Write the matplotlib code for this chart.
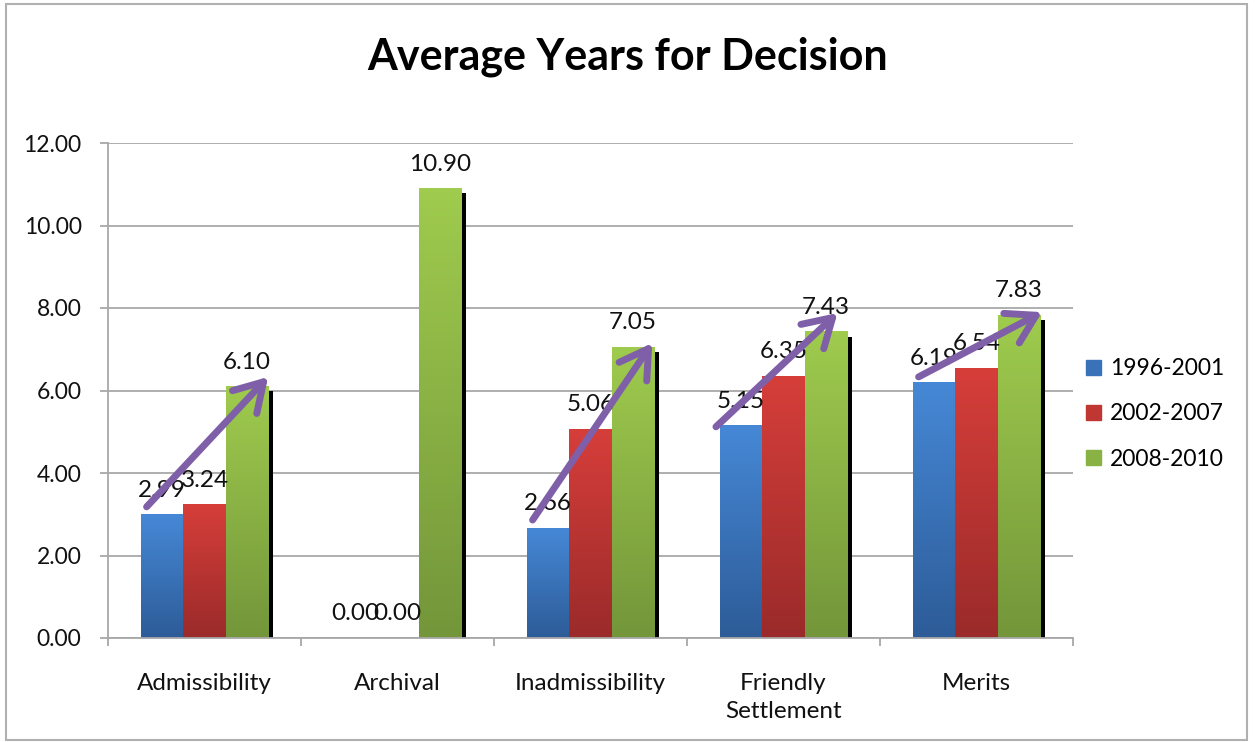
import matplotlib
matplotlib.use("Agg")
import matplotlib.pyplot as plt
import numpy as np
from matplotlib.colors import LinearSegmentedColormap
from matplotlib.patches import Rectangle
from matplotlib.transforms import ScaledTranslation

plt.rcParams["font.family"] = ["Lato", "DejaVu Sans"]

categories = ["Admissibility", "Archival", "Inadmissibility", "Friendly\nSettlement", "Merits"]
series_names = ["1996-2001", "2002-2007", "2008-2010"]
values_1996 = [2.99, 0.00, 2.66, 5.15, 6.19]
values_2002 = [3.24, 0.00, 5.06, 6.35, 6.54]
values_2008 = [6.10, 10.90, 7.05, 7.43, 7.83]
y_ticks = [0, 2, 4, 6, 8, 10, 12]

# trend arrows (category position, value) drawn over each group
arrow_starts = [(-0.30, 3.18), (1.70, 2.86), (2.65, 5.12), (3.70, 6.33)]
arrow_ends = [(0.33, 6.33), (2.32, 7.15), (3.28, 7.88), (4.34, 7.90)]

# top / bottom gradient colours per series
top_colors = ["#4688D6", "#D63E3A", "#9FCB4E"]
bottom_colors = ["#2D5C98", "#9A2B2A", "#73963A"]
legend_colors = ["#3A72BA", "#C03633", "#89B244"]

W, H = 1255, 742
fig = plt.figure(figsize=(W / 100, H / 100), dpi=100)
ax = fig.add_axes([108 / W, 1 - 638 / H, (1073 - 108) / W, (638 - 143) / H])

x = np.arange(len(categories))
bar_w = 0.22
offsets = [-bar_w, 0.0, bar_w]
all_values = [values_1996, values_2002, values_2008]

shadow_tr = ax.transData + ScaledTranslation(5 / 100, -5 / 100, fig.dpi_scale_trans)
grad = np.linspace(0, 1, 100).reshape(-1, 1)

for k, vals in enumerate(all_values):
    # black drop shadow
    shadow = ax.bar(x + offsets[k], vals, bar_w, color="black", zorder=1, linewidth=0)
    for rect in shadow:
        rect.set_transform(shadow_tr)
    bars = ax.bar(x + offsets[k], vals, bar_w, color=legend_colors[k], zorder=2,
                  linewidth=0, label=series_names[k])
    cmap = LinearSegmentedColormap.from_list(f"g{k}", [top_colors[k], bottom_colors[k]])
    for rect in bars:
        h = rect.get_height()
        if h <= 0:
            continue
        x0 = rect.get_x()
        ax.imshow(grad, cmap=cmap, extent=(x0, x0 + rect.get_width(), 0, h),
                  aspect="auto", origin="upper", zorder=2 + 0.1 * k + 0.05,
                  interpolation="bicubic")
    for xi, v in zip(x + offsets[k], vals):
        ax.annotate(f"{v:.2f}", (xi, v), xytext=(0, 17.5), textcoords="offset points",
                    ha="center", va="center", fontsize=17.5, color="#111111", zorder=5)

for (sx, sy), (ex, ey) in zip(arrow_starts, arrow_ends):
    ax.annotate("", xy=(ex, ey), xytext=(sx, sy),
                arrowprops=dict(arrowstyle="->,head_length=1.0,head_width=0.6",
                                mutation_scale=20, lw=5, color="#7F60A8",
                                shrinkA=0, shrinkB=0, capstyle="round",
                                joinstyle="round"),
                zorder=6)

ax.set_xlim(-0.5, len(categories) - 0.5)
ax.set_ylim(0, 12)
ax.set_yticks(y_ticks)
ax.set_yticklabels([f"{t:.2f}" for t in y_ticks])
ax.set_xticks(x)
ax.set_xticklabels(categories, linespacing=1.45)
ax.set_xticks(np.arange(len(categories) + 1) - 0.5, minor=True)

gray = "#A8A8A8"
ax.yaxis.grid(True, color=gray, lw=1.3)
ax.set_axisbelow(True)
for side in ["top", "right"]:
    ax.spines[side].set_visible(False)
for side in ["left", "bottom"]:
    ax.spines[side].set_color(gray)
    ax.spines[side].set_linewidth(1.3)

ax.tick_params(axis="y", direction="out", length=6, width=1.3, color=gray,
               labelsize=16.5, pad=13, labelcolor="#111111")
ax.tick_params(axis="x", which="major", length=0, labelsize=17.5, pad=25,
               labelcolor="#111111")
ax.tick_params(axis="x", which="minor", direction="out", length=6, width=1.3, color=gray)

fig.text(628 / W, 1 - 57 / H, "Average Years for Decision", ha="center", va="center",
         fontsize=31, fontweight="bold", color="black")

handles = [Rectangle((0, 0), 1, 1, color=c) for c in legend_colors]
fig.legend(handles, series_names, loc="center left", bbox_to_anchor=(1086 / W, 1 - 414 / H),
           frameon=False, fontsize=16.5, handlelength=0.65, handleheight=0.65,
           handletextpad=0.4, labelspacing=1.05, borderpad=0, borderaxespad=0)

fig.patches.append(Rectangle((6 / W, 2 / H), (1247 - 6) / W, (740 - 4) / H,
                             transform=fig.transFigure, fill=False,
                             edgecolor="#B0B0B0", lw=1.5))

fig.savefig("out.png", dpi=100)
